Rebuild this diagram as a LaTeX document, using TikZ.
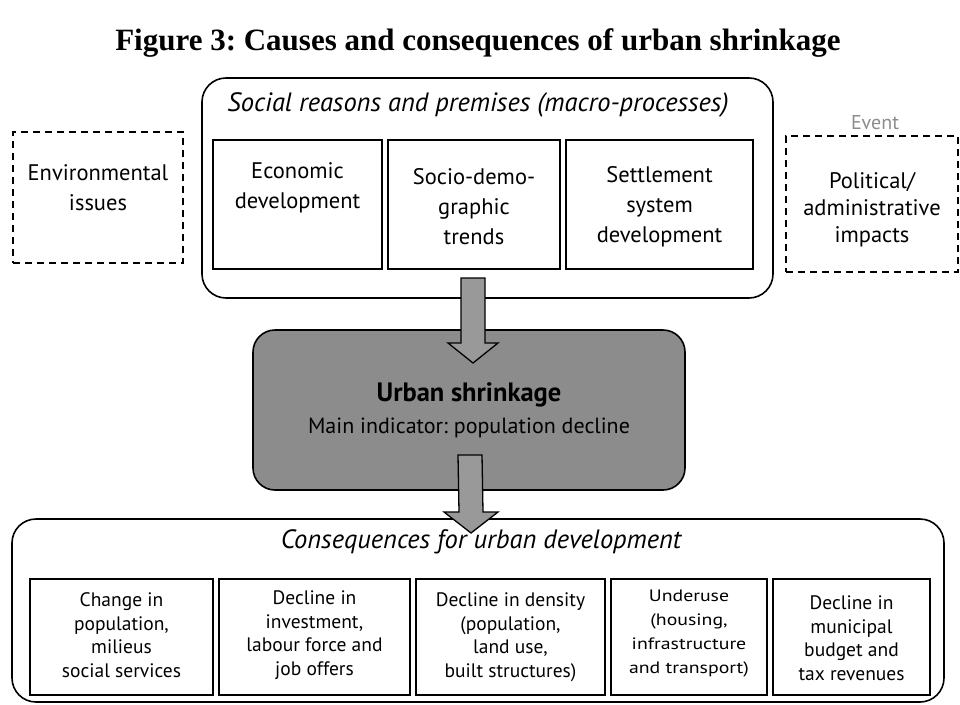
\documentclass[tikz,border=0pt]{standalone}
\usepackage{fontspec}
\setmainfont{PT Sans}
\newfontfamily\titlefont{Liberation Serif}
\newfontfamily\widefont[FakeStretch=1.2]{PT Sans}
\usetikzlibrary{calc}
\frenchspacing
\begin{document}
\begin{tikzpicture}[x=1pt,y=-1pt,
  every node/.style={inner sep=0pt,outer sep=0pt},
  frame/.style={draw,line width=1.6pt,rounded corners=24pt},
  innerbox/.style={draw,line width=1.5pt},
  dashbox/.style={draw,line width=1.4pt,dash pattern=on 7pt off 5pt},
  toptext/.style={align=center,font=\fontsize{22.5}{30}\selectfont},
  bottext/.style={align=center,font=\fontsize{19.5}{23.5}\selectfont},
  headline/.style={font=\fontsize{26.5}{30}\selectfont\itshape},
  blockarrow/.style={draw,line width=1.3pt,fill=black!40,line join=miter},
]
\useasboundingbox (0,0) rectangle (960,704);
\fill[white] (0,0) rectangle (960,704);

% title
\node[font=\titlefont\bfseries\fontsize{31}{36}\selectfont] (title) at (478,43) {Figure 3: Causes and consequences of urban shrinkage};

% top frame
\node[frame,minimum width=571,minimum height=220] (top) at (487.5,188) {};
\node[headline] (toph) at (478,105) {Social reasons and premises (macro-processes)};
\node[innerbox,minimum width=169,minimum height=129] (econ) at (297.5,204.5) {};
\node[toptext] (econT) at (297.5,188) {Economic\\development};
\node[innerbox,minimum width=172,minimum height=129] (socio) at (474,204.5) {};
\node[toptext] (socioT) at (474,207) {Socio-demo-\\graphic\\trends};
\node[innerbox,minimum width=187,minimum height=129] (settle) at (659.5,204.5) {};
\node[toptext] (settleT) at (659.5,207) {Settlement\\system\\development};

% dashed side boxes
\node[dashbox,minimum width=170,minimum height=131] (env) at (98,197.5) {};
\node[toptext] (envT) at (98,188) {Environmental\\issues};
\node[dashbox,minimum width=172,minimum height=136] (pol) at (872,204) {};
\node[toptext,font=\fontsize{22.5}{27}\selectfont] (polT) at (872,210) {Political/\\administrative\\impacts};
\node[font=\fontsize{20}{22}\selectfont,text=black!45] (event) at (875,123) {Event};

% middle box
\node[draw,line width=1.6pt,rounded corners=22pt,fill=black!45,minimum width=432,minimum height=160,align=center,font=\fontsize{22}{32}\selectfont] (mid) at (469,410)
  {{\bfseries\fontsize{26.5}{32}\selectfont Urban shrinkage}\\{\fontsize{22}{32}\selectfont Main indicator: population decline}};

% bottom frame
\node[frame,minimum width=932,minimum height=183] (bot) at (478,610.5) {};
\node[headline] (both) at (481,542) {Consequences for urban development};
\node[innerbox,minimum width=183,minimum height=116] (b1) at (121.5,637) {};
\node[bottext] (b1T) at (121.5,635) {Change in\\population,\\milieus\\social services};
\node[innerbox,minimum width=191,minimum height=116] (b2) at (314.5,637) {};
\node[bottext] (b2T) at (314.5,635) {Decline in\\investment,\\labour force and\\job offers};
\node[innerbox,minimum width=189,minimum height=116] (b3) at (510.5,637) {};
\node[bottext] (b3T) at (510.5,637) {Decline in density\\(population,\\land use,\\built structures)};
\node[innerbox,minimum width=156,minimum height=116] (b4) at (689,637) {};
\node[align=center,font=\widefont\fontsize{16.5}{24}\selectfont] (b4T) at (689,634) {Underuse\\(housing,\\infrastructure\\and transport)};
\node[innerbox,minimum width=157,minimum height=116] (b5) at (851.5,637) {};
\node[bottext] (b5T) at (851.5,638) {Decline in\\municipal\\budget and\\tax revenues};

% block arrows
\coordinate (a1s) at ($(top.south)+(-14.5,-20)$);
\coordinate (a1e) at ($(mid.north)+(4,33)$);
\draw[blockarrow] ($(a1s)+(-12,0)$) -- ($(a1s)+(12,0)$) -- ($(a1e)+(12,-20)$) -- ($(a1e)+(25,-20)$) -- (a1e) -- ($(a1e)+(-25,-20)$) -- ($(a1e)+(-12,-20)$) -- cycle;
\coordinate (a2s) at ($(mid.south)+(1,-35)$);
\coordinate (a2e) at ($(bot.north)+(-7,14)$);
\draw[blockarrow] ($(a2s)+(-12,0)$) -- ($(a2s)+(12,0)$) -- ($(a2e)+(12,-21)$) -- ($(a2e)+(27,-21)$) -- (a2e) -- ($(a2e)+(-27,-21)$) -- ($(a2e)+(-12,-21)$) -- cycle;
\end{tikzpicture}
\end{document}
